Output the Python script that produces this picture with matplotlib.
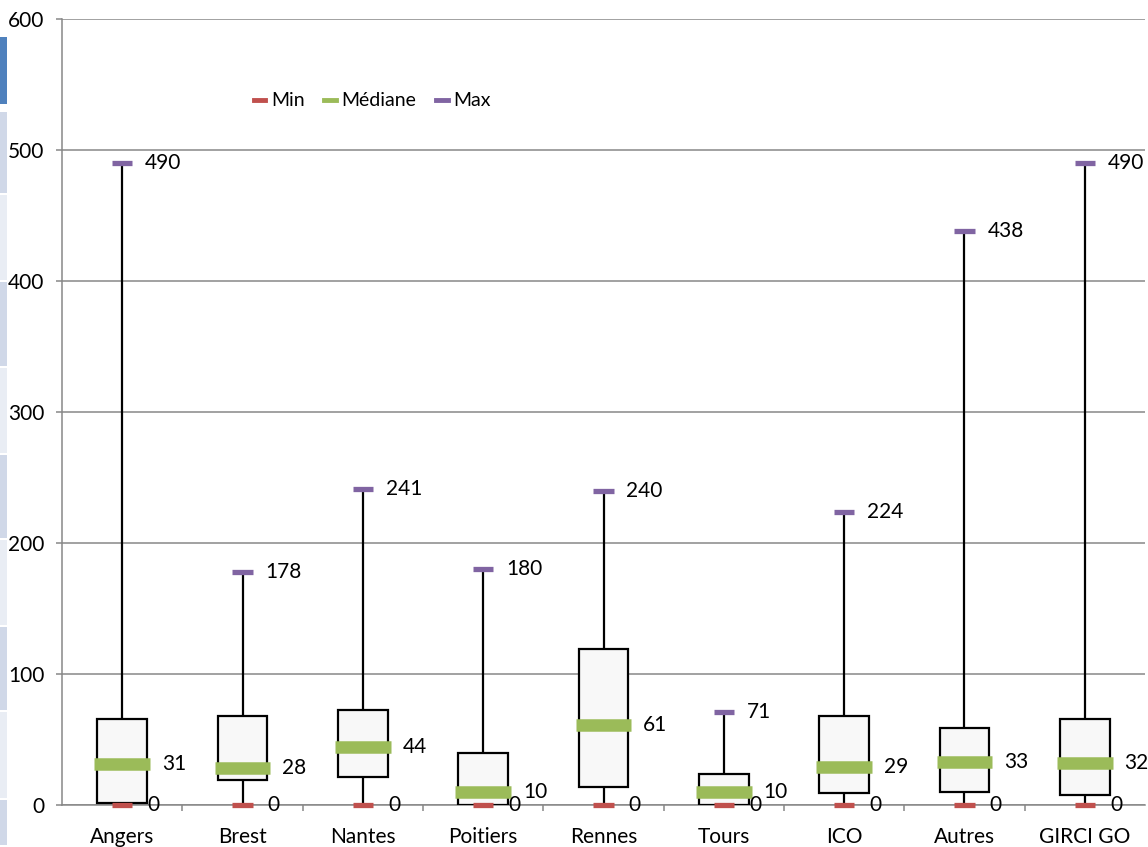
import matplotlib.pyplot as plt
from matplotlib.lines import Line2D
from matplotlib.patches import Rectangle

plt.rcParams["font.family"] = ["Lato", "DejaVu Sans"]

CATEGORIES = ["Angers", "Brest", "Nantes", "Poitiers", "Rennes", "Tours", "ICO", "Autres", "GIRCI GO"]
MINS = [0, 0, 0, 0, 0, 0, 0, 0, 0]
Q1 = [1.5, 19, 21, 0, 14, 0, 9, 10, 8]
MEDIANS = [31, 28, 44, 10, 61, 10, 29, 33, 32]
Q3 = [66, 68, 72.5, 40, 119, 24, 68, 59, 66]
MAXS = [490, 178, 241, 180, 240, 71, 224, 438, 490]

RED = "#C0504D"
GREEN = "#9BBB59"
PURPLE = "#8064A2"
GRID = "#878787"
FS = 15

W, H = 1148, 847
fig = plt.figure(figsize=(W / 100, H / 100), dpi=100)
ax = fig.add_axes([62 / W, 1 - 805 / H, (1145 - 62) / W, (805 - 19) / H])

# strip of the neighbouring sheet at the left edge
strips = [(37, 104, "#4F81BD")]
edges = [112, 195, 282, 368, 455, 540, 627, 712, 800, 847]
for k in range(len(edges) - 1):
    col = "#D0D8E8" if k % 2 == 0 else "#E9EDF4"
    strips.append((edges[k], edges[k + 1] - 2, col))
for y0, y1, col in strips:
    fig.add_artist(Rectangle((0, 1 - y1 / H), 7 / W, (y1 - y0) / H,
                             transform=fig.transFigure, color=col, lw=0))

x = list(range(len(CATEGORIES)))
box_w = 0.41
for i in x:
    ax.vlines(i, Q3[i], MAXS[i], color="black", lw=1.6, zorder=2)
    ax.vlines(i, MINS[i], Q1[i], color="black", lw=1.6, zorder=2)
ax.bar(x, [b - a for a, b in zip(Q1, Q3)], bottom=Q1, width=box_w,
       color="#F8F8F8", edgecolor="black", linewidth=1.6, zorder=3)
ax.hlines(MEDIANS, [i - 0.23 for i in x], [i + 0.23 for i in x],
          color=GREEN, lw=9, zorder=4)
ax.hlines(MINS, [i - 0.085 for i in x], [i + 0.085 for i in x],
          color=RED, lw=3.8, zorder=5, clip_on=False)
ax.hlines(MAXS, [i - 0.085 for i in x], [i + 0.085 for i in x],
          color=PURPLE, lw=3.8, zorder=5)

for i in x:
    ax.text(i + 0.19, MAXS[i], str(MAXS[i]), ha="left", va="center", fontsize=FS)
    ax.text(i + 0.33, MEDIANS[i], str(MEDIANS[i]), ha="left", va="center", fontsize=FS)
    ax.text(i + 0.21, MINS[i], str(MINS[i]), ha="left", va="center", fontsize=FS,
            clip_on=False, zorder=6)

ax.set_xlim(-0.5, len(CATEGORIES) - 0.5)
ax.set_ylim(0, 600)
ax.set_yticks(range(0, 601, 100))
ax.set_xticks([i + 0.5 for i in x[:-1]])
ax.set_xticklabels([])
ax.set_xticks(x, minor=True)
ax.set_xticklabels(CATEGORIES, minor=True, fontsize=FS)
ax.tick_params(axis="x", which="major", direction="out", length=4, color=GRID, width=1.1)
ax.tick_params(axis="x", which="minor", length=0, pad=16)
ax.tick_params(axis="y", direction="out", length=4.5, color=GRID, width=1.1,
               labelsize=FS, pad=8)
ax.grid(axis="y", color=GRID, lw=1.1)
ax.set_axisbelow(True)
for side in ["top", "right"]:
    ax.spines[side].set_visible(False)
for side in ["left", "bottom"]:
    ax.spines[side].set_color(GRID)
    ax.spines[side].set_linewidth(1.1)

handles = [Line2D([], [], color=c, lw=3.5) for c in (RED, GREEN, PURPLE)]
fig.legend(handles, ["Min", "Médiane", "Max"], loc="center left",
           bbox_to_anchor=(236 / W, 1 - 101 / H), ncol=3, frameon=False,
           fontsize=14, handlelength=0.6, handletextpad=0.3, columnspacing=1.0)

fig.savefig("out.png", dpi=100)
